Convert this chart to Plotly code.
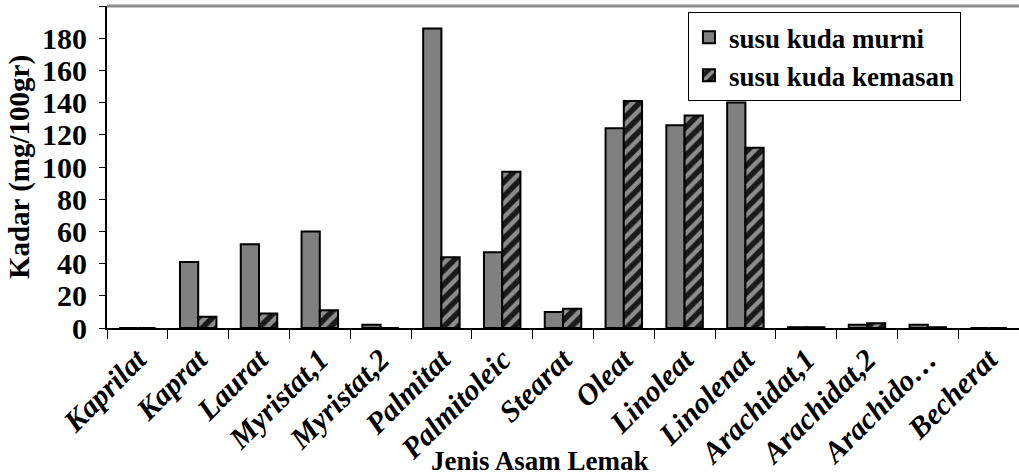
import plotly.graph_objects as go

categories = ["Kaprilat", "Kaprat", "Laurat", "Myristat,1", "Myristat,2", "Palmitat",
              "Palmitoleic", "Stearat", "Oleat", "Linoleat", "Linolenat", "Arachidat,1",
              "Arachidat,2", "Arachido…", "Becherat"]
murni = [0, 41, 52, 60, 2, 186, 47, 10, 124, 126, 140, 0.5, 2, 2, 0]
kemasan = [0, 7, 9, 11, 0, 44, 97, 12, 141, 132, 112, 0.5, 3, 0.5, 0]
y_ticks = list(range(0, 201, 20))

FONT = "Liberation Serif"

fig = go.Figure()
fig.add_trace(go.Bar(
    x=categories, y=murni, name="susu kuda murni",
    marker=dict(color="#808080", line=dict(color="black", width=2)),
))
fig.add_trace(go.Bar(
    x=categories, y=kemasan, name="susu kuda kemasan",
    marker=dict(color="#1a1a1a", line=dict(color="black", width=2),
                pattern=dict(shape="/", fgcolor="white", size=10, solidity=0.45)),
))

fig.update_layout(
    width=1019, height=476,
    margin=dict(l=107, r=0, t=6, b=148),
    paper_bgcolor="white", plot_bgcolor="white",
    barmode="group", bargap=0.4, bargroupgap=0,
    font=dict(family=FONT, color="black"),
    showlegend=True,
    legend=dict(
        x=0.637, y=0.981, xanchor="left", yanchor="top",
        bgcolor="white", bordercolor="black", borderwidth=1,
        font=dict(family=FONT, size=27, color="black", weight="bold"),
        tracegroupgap=0, itemwidth=30,
    ),
    xaxis=dict(
        range=[-0.5, 14.5], type="category",
        showline=True, linecolor="black", linewidth=2,
        ticks="outside", tickson="boundaries", ticklen=9, tickwidth=1, tickcolor="black",
        tickangle=-45,
        tickfont=dict(family=FONT, size=30, color="black", weight="bold", style="italic"),
        showgrid=False, zeroline=False,
    ),
    yaxis=dict(
        range=[0, 200], tickvals=y_ticks,
        showline=True, linecolor="black", linewidth=2,
        ticks="outside", ticklen=6, tickcolor="black",
        ticklabelstandoff=6,
        tickfont=dict(family=FONT, size=30, color="black", weight="bold"),
        showgrid=False, zeroline=False,
        title=dict(text="Kadar (mg/100gr)", standoff=4,
                   font=dict(family=FONT, size=29, color="black", weight="bold")),
    ),
    shapes=[dict(type="line", xref="paper", yref="paper", x0=0, x1=1, y0=1, y1=1,
                 line=dict(color="#8c8c8c", width=3))],
    annotations=[dict(text="Jenis Asam Lemak", xref="paper", yref="paper",
                      x=(540 - 107) / 912, y=-(461 - 328) / 322,
                      xanchor="center", yanchor="middle", showarrow=False,
                      font=dict(family=FONT, size=27, color="black", weight="bold"))],
)

fig.write_html("out.html")
